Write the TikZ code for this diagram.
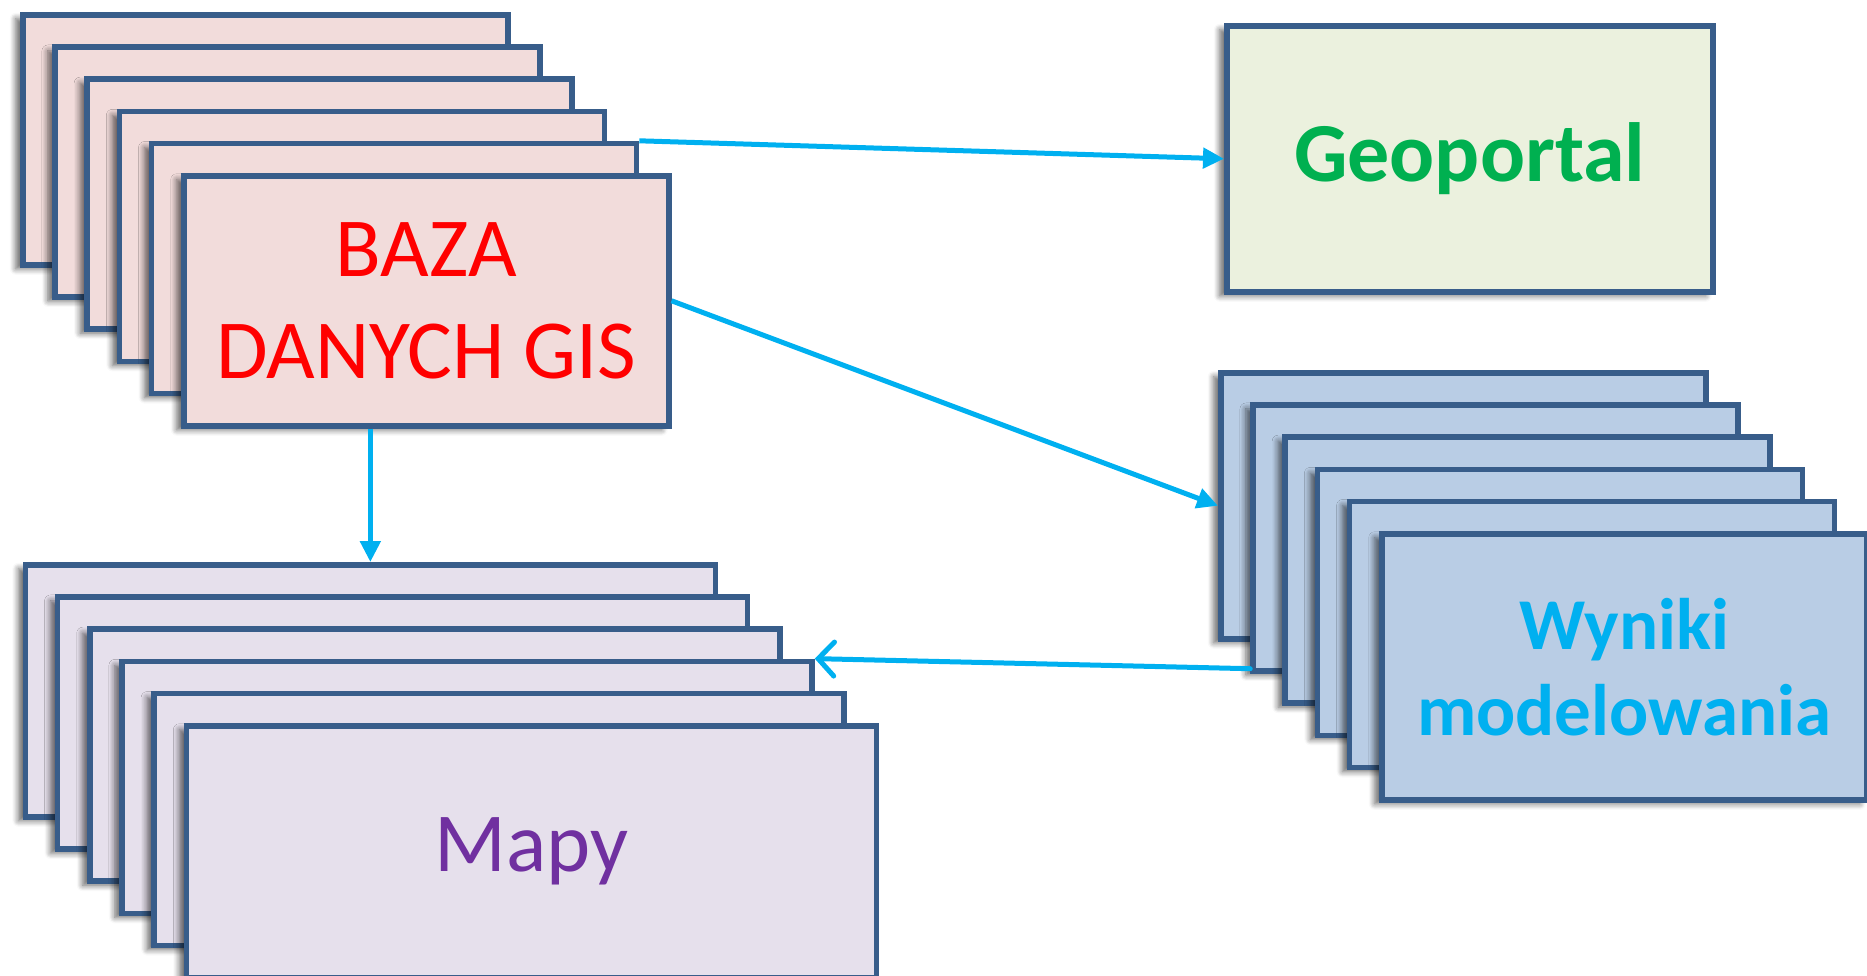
\documentclass[tikz,border=0pt]{standalone}
\usepackage{fontspec}
\setmainfont{Carlito}
\usetikzlibrary{arrows.meta,shadows.blur,calc}
\definecolor{bord}{HTML}{385D8A}
\definecolor{bazafill}{HTML}{F2DCDB}
\definecolor{geofill}{HTML}{EBF1DE}
\definecolor{wynfill}{HTML}{B9CDE5}
\definecolor{mapfill}{HTML}{E6E0EC}
\definecolor{arrowc}{HTML}{00B0F0}
\definecolor{txtred}{HTML}{FF0000}
\definecolor{txtgreen}{HTML}{00B050}
\definecolor{txtpurple}{HTML}{7030A0}
\tikzset{
  card/.style={draw=bord, line width=5.5pt, rectangle, inner sep=0pt, anchor=north west, align=center,
    blur shadow={shadow xshift=-7pt, shadow yshift=-4pt, shadow blur radius=6pt, shadow blur steps=6, shadow opacity=60}},
  bazacard/.style={card, fill=bazafill, minimum width=485pt, minimum height=250pt},
  mapcard/.style={card, fill=mapfill, minimum width=690pt, minimum height=252pt},
  wyncard/.style={card, fill=wynfill, minimum width=485pt, minimum height=266pt},
  geocard/.style={card, fill=geofill, minimum width=486pt, minimum height=266pt},
  bigtext/.style={font=\fontsize{84pt}{102pt}\selectfont},
  midtext/.style={font=\fontsize{73pt}{86pt}\selectfont\bfseries},
  conn/.style={draw=arrowc, line width=5pt},
  filltip/.style={conn, -{Triangle[length=21pt,width=20pt]}},
  opentip/.style={conn, line cap=round, -{Straight Barb[length=16pt,width=34pt,line cap=round]}}
}
\begin{document}
\begin{tikzpicture}[x=1pt,y=-1pt]
\useasboundingbox (0,0) rectangle (1867,975);
% Baza stack
\foreach \i in {1,...,5} {
  \node[bazacard] (b\i) at ({20+32.2*(\i-1)},{12+32.2*(\i-1)}) {};
}
\node[bazacard, bigtext, text=txtred] (b6) at ({20+32.2*5},{12+32.2*5}) {BAZA\\DANYCH GIS};
% Geoportal
\node[geocard, font=\fontsize{84pt}{102pt}\selectfont\bfseries, text=txtgreen] (g) at (1224,23) {Geoportal};
% Wyniki stack
\foreach \i in {1,...,5} {
  \node[wyncard] (w\i) at ({1218+32.2*(\i-1)},{370+32.2*(\i-1)}) {};
}
\node[wyncard, midtext, text=arrowc] (w6) at ({1218+32.2*5},{370+32.2*5}) {Wyniki\\modelowania};
% Mapy stack
\foreach \i in {1,...,5} {
  \node[mapcard] (m\i) at ({22.6+32.2*(\i-1)},{562+32.2*(\i-1)}) {};
}
\node[mapcard, bigtext, text=txtpurple] (m6) at ({22.6+32.2*5},{562+32.2*5}) {Mapy};
% Connectors
\draw[filltip] (b5.north east) -- (g.west);
\draw[filltip] (b6.east) -- (w1.west);
\draw[filltip] (b6.south -| m1.north) -- (m1.north);
\draw[opentip] ([yshift=5pt]w2.south west) -- (m4.north east);
\end{tikzpicture}
\end{document}
